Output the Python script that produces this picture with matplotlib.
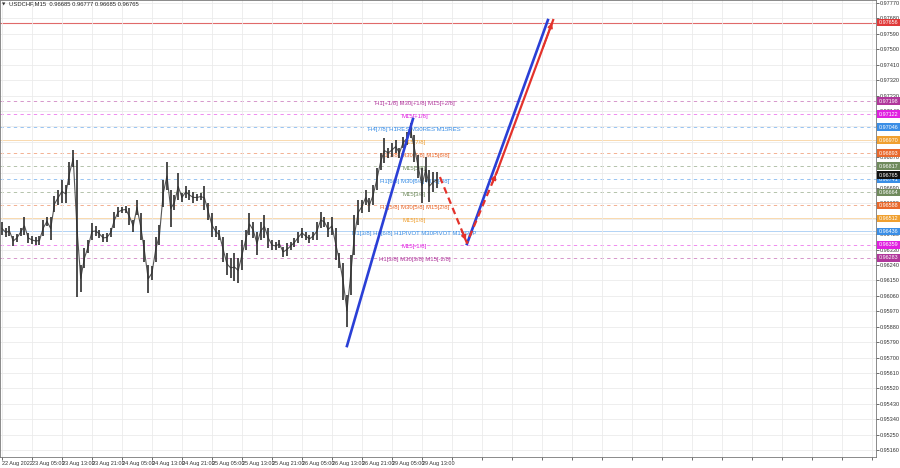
import matplotlib
matplotlib.use("Agg")
import matplotlib.pyplot as plt
import matplotlib.transforms as mtransforms
import numpy as np

plt.rcParams["font.family"] = ["Liberation Sans", "DejaVu Sans"]

header = "USDCHF,M15  0.96685 0.96777 0.96685 0.96765"
time_labels = ["22 Aug 2022", "23 Aug 05:00", "23 Aug 13:00", "23 Aug 21:00", "24 Aug 05:00",
               "24 Aug 13:00", "24 Aug 21:00", "25 Aug 05:00", "25 Aug 13:00", "25 Aug 21:00",
               "26 Aug 05:00", "26 Aug 13:00", "26 Aug 21:00", "29 Aug 05:00", "29 Aug 13:00"]

# hourly high / low
bar_high = [0.96491, 0.96457, 0.96468, 0.96410, 0.96422, 0.96457, 0.96521, 0.96428, 0.96410, 0.96404,
            0.96410, 0.96503, 0.96521, 0.96521, 0.96643, 0.96678, 0.96737, 0.96708, 0.96842, 0.96912,
            0.96854, 0.96241, 0.96340, 0.96386, 0.96486, 0.96468, 0.96445, 0.96422, 0.96428, 0.96457,
            0.96550, 0.96579, 0.96579, 0.96585, 0.96573, 0.96503, 0.96620, 0.96544, 0.96386, 0.96241,
            0.96235, 0.96404, 0.96474, 0.96737, 0.96842, 0.96678, 0.96649, 0.96778, 0.96661, 0.96702,
            0.96678, 0.96667, 0.96655, 0.96661, 0.96702, 0.96603, 0.96544, 0.96468, 0.96445, 0.96404,
            0.96311, 0.96281, 0.96311, 0.96281, 0.96386, 0.96445, 0.96544, 0.96491, 0.96433, 0.96491,
            0.96532, 0.96457, 0.96386, 0.96375, 0.96386, 0.96346, 0.96369, 0.96375, 0.96398, 0.96433,
            0.96457, 0.96433, 0.96416, 0.96433, 0.96491, 0.96550, 0.96521, 0.96491, 0.96521, 0.96457,
            0.96311, 0.96252, 0.96065, 0.96299, 0.96532, 0.96620, 0.96620, 0.96678, 0.96632, 0.96708,
            0.96807, 0.96895, 0.96982, 0.96924, 0.96953, 0.96970, 0.96924, 0.96988, 0.97017, 0.97070,
            0.96999, 0.96883, 0.96807, 0.96871, 0.96795, 0.96784, 0.96784]
bar_low = [0.96416, 0.96404, 0.96410, 0.96351, 0.96375, 0.96410, 0.96416, 0.96369, 0.96363, 0.96357,
           0.96357, 0.96410, 0.96468, 0.96386, 0.96550, 0.96591, 0.96603, 0.96603, 0.96708, 0.96813,
           0.96053, 0.96083, 0.96223, 0.96311, 0.96386, 0.96410, 0.96398, 0.96375, 0.96375, 0.96404,
           0.96457, 0.96521, 0.96544, 0.96544, 0.96474, 0.96433, 0.96532, 0.96386, 0.96258, 0.96077,
           0.96153, 0.96258, 0.96357, 0.96579, 0.96678, 0.96462, 0.96562, 0.96620, 0.96608, 0.96632,
           0.96620, 0.96603, 0.96614, 0.96620, 0.96562, 0.96503, 0.96404, 0.96404, 0.96386, 0.96258,
           0.96182, 0.96165, 0.96147, 0.96135, 0.96211, 0.96328, 0.96416, 0.96398, 0.96299, 0.96386,
           0.96398, 0.96340, 0.96328, 0.96328, 0.96340, 0.96287, 0.96293, 0.96328, 0.96346, 0.96369,
           0.96398, 0.96386, 0.96369, 0.96386, 0.96386, 0.96457, 0.96462, 0.96404, 0.96416, 0.96270,
           0.96223, 0.96036, 0.95880, 0.96065, 0.96299, 0.96474, 0.96544, 0.96591, 0.96550, 0.96591,
           0.96678, 0.96795, 0.96836, 0.96865, 0.96871, 0.96894, 0.96865, 0.96924, 0.96941, 0.96982,
           0.96842, 0.96749, 0.96603, 0.96725, 0.96608, 0.96667, 0.96690]

levels = [0.97198, 0.97122, 0.97046, 0.96970, 0.96893, 0.96817, 0.96741,
          0.96664, 0.96588, 0.96512, 0.96436, 0.96359, 0.96283]
level_text = ["H1[+1/8] M30[+1/8] M15[+2/8]", "M15[+1/8]", "H4[7/8] H1RES M30RES M15RES",
              "M15[7/8]", "H1[7/8] M30[7/8] M15[6/8]", "M15[5/8]", "H1[6/8] M30[6/8] M15[4/8]",
              "M15[3/8]", "H1[5/8] M30[5/8] M15[2/8]", "M15[1/8]",
              "D1[3/8] H4[6/8] H1PIVOT M30PIVOT M15SUP", "M15[-1/8]", "H1[3/8] M30[3/8] M15[-2/8]"]
level_color = ["#b0379b", "#e020e0", "#3a8ee6", "#f0a030", "#e8682c", "#6f8a5c", "#3a8ee6",
               "#6f8a5c", "#e8682c", "#f0a030", "#3a8ee6", "#e020e0", "#b0379b"]
level_solid = [False, False, False, True, False, False, False, False, False, True, True, False, False]

target_price = 0.97656
last_price = 0.96765

swing_idx = [92, 109.6]
swing_price = [0.95767, 0.97093]
proj_idx = [116.8, 124, 132, 147]
proj_price = [0.96754, 0.96369, 0.96784, 0.97671]
blue2_idx = [124, 145.6]
blue2_price = [0.96363, 0.97671]

fig = plt.figure(figsize=(9, 4.68), dpi=100)
ax = fig.add_axes([0.0, 11 / 468, 876 / 900, 457 / 468])
ax.set_xlim(-0.53, 233.1)
ax.set_ylim(0.95119, 0.97788)

# grid
xt = np.arange(0, 233, 8)
ax.set_xticks(xt)
ax.set_xticklabels(time_labels + [""] * (len(xt) - len(time_labels)), ha="left")
yt = np.linspace(0.95160, 0.97770, 30)
ax.set_yticks(yt)
ax.set_yticklabels([f"{v:.5f}" for v in yt])
ax.yaxis.tick_right()
ax.tick_params(axis="both", labelsize=4.0, length=2, width=0.5, colors="#333333", pad=1)
ax.grid(True, color="#ebebeb", lw=0.6, zorder=0)
for s in ax.spines.values():
    s.set_color("#777777")
    s.set_linewidth(0.6)

# levels
ax.axhline(target_price, color="#e06a6a", lw=0.8, zorder=1)
for p, c, solid, t in zip(levels, level_color, level_solid, level_text):
    if solid:
        ax.axhline(p, color=c, lw=0.6, alpha=0.45, zorder=1)
    else:
        ax.axhline(p, color=c, lw=0.6, alpha=0.6, ls=(0, (4, 4)), zorder=1)
    ax.text(110, p - 0.00012, t, color=c, fontsize=4.3, ha="center", va="center", zorder=3)

# price bars
idx = np.arange(len(bar_high))
mid = (np.array(bar_high) + np.array(bar_low)) / 2
ax.plot(idx, mid, color="#555555", lw=0.8, zorder=4)
ax.vlines(idx, bar_low, bar_high, color="#2e2e2e", lw=1.2, zorder=4)

# projections
ax.plot(swing_idx, swing_price, color="#2a3fd6", lw=1.9, zorder=5)
ax.plot(blue2_idx, blue2_price, color="#2a3fd6", lw=1.9, zorder=5)
ax.plot(proj_idx[:3], proj_price[:3], color="#e3322b", lw=1.6, ls=(0, (3, 2)), zorder=6)
ax.plot(proj_idx[2:], proj_price[2:], color="#e3322b", lw=1.6, zorder=6)
for i in range(1, 4):
    x0, y0 = proj_idx[i - 1], proj_price[i - 1]
    x1, y1 = proj_idx[i], proj_price[i]
    ax.annotate("", xy=(x1, y1), xytext=(x0 + 0.8 * (x1 - x0), y0 + 0.8 * (y1 - y0)),
                arrowprops=dict(arrowstyle="-|>", color="#e3322b", lw=1.2, mutation_scale=7),
                zorder=7)

# right-hand price tags
tr = mtransforms.blended_transform_factory(ax.transAxes, ax.transData)
tags = [(target_price, "#e03a3a")] + list(zip(levels, level_color)) + [(last_price, "#111111")]
for p, c in tags:
    ax.text(1.003, p, f"{p:.5f}", transform=tr, fontsize=3.9, color="white", ha="left",
            va="center", clip_on=False, zorder=10,
            bbox=dict(boxstyle="square,pad=0.25", fc=c, ec="none"))

fig.text(2 / 900, 1 - 4 / 468, "\u25bc", fontsize=3.2, color="#333333", va="center",
         family="DejaVu Sans")
fig.text(9 / 900, 1 - 4 / 468, header, fontsize=4.2, color="#222222", va="center")

fig.savefig("out.png", dpi=100)
